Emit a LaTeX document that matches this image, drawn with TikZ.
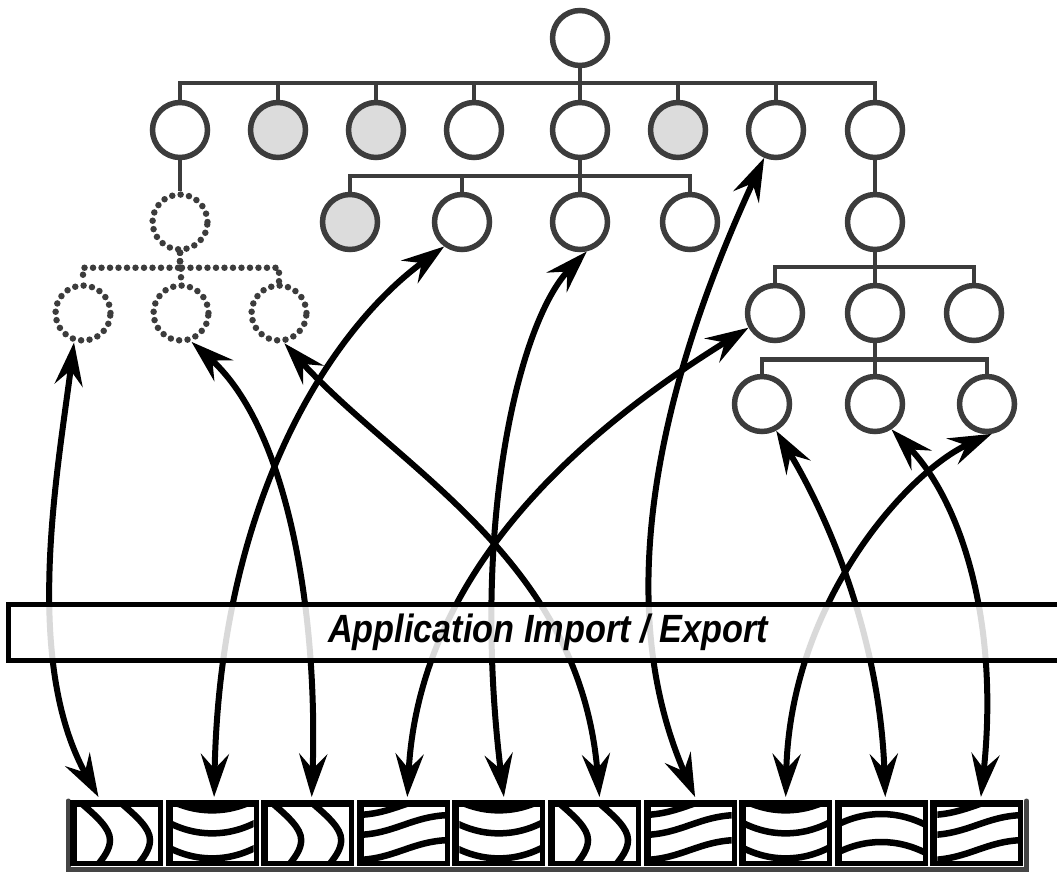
\documentclass[tikz,border=0pt]{standalone}
\usepackage{graphicx}
\usepackage{fontspec}
\newfontfamily\barfont{Liberation Sans}
\usetikzlibrary{arrows.meta}

\definecolor{treegray}{HTML}{3C3C3C}
\definecolor{nodegray}{HTML}{DCDCDC}
\definecolor{framegray}{HTML}{454545}

\tikzset{
  tnode/.style={circle, draw=treegray, fill=white, line width=0.11cm, minimum size=1.1cm, inner sep=0pt},
  plain/.style={},
  shaded/.style={fill=nodegray},
  dotnode/.style={circle, draw=treegray, line width=0.13cm, minimum size=1.1cm, inner sep=0pt,
    dash pattern=on 0pt off 0.17cm, line cap=round},
  treeline/.style={draw=treegray, line width=0.09cm},
  dotline/.style={draw=treegray, line width=0.13cm, dash pattern=on 0pt off 0.17cm, line cap=round},
  tile/.style={rectangle, fill=black, minimum width=1.86cm, minimum height=1.32cm, inner sep=0pt, outer sep=0pt},
  tilestroke/.style={line width=0.13cm},
  link/.style={line width=0.12cm,
    {Stealth[length=0.86cm,width=0.56cm,inset=0.3cm]}-{Stealth[length=0.86cm,width=0.56cm,inset=0.3cm]}},
  appbar/.style={rectangle, draw=black, line width=0.1cm, fill=white, fill opacity=0.85, text opacity=1,
    minimum width=21.6cm, minimum height=1.12cm, font=\barfont\bfseries\itshape\fontsize{19.5}{22}\selectfont}
}

% wood grain patterns, local pixel coordinates of one tile
\newcommand{\tileV}{\foreach \s in {0,40}{\draw[tilestroke] (\s+11,3) .. controls (\s+26,16) and (\s+40,28) .. (\s+40,40) .. controls (\s+40,50) and (\s+33,58) .. (\s+27,66);}}
\newcommand{\tileSag}{\foreach \y in {-2,21,46}{\draw[tilestroke] (0,\y) .. controls (30,\y+16.5) and (63,\y+16.5) .. (93,\y);}}
\newcommand{\tileRise}{\foreach \y in {15,35,60}{\draw[tilestroke] (0,\y) .. controls (38,\y-1) and (55,\y-19) .. (93,\y-20);}}
\newcommand{\tileArch}{\foreach \y in {26,54}{\draw[tilestroke] (0,\y) .. controls (30,\y-16) and (63,\y-16) .. (93,\y);}}

\begin{document}
\begin{tikzpicture}[x=0.02cm, y=-0.02cm]
\path[use as bounding box, clip] (0,0) rectangle (1057,872);

% file tiles
\draw[framegray, line width=0.1cm, line cap=round] (68,801) -- (68,869.5) -- (1026.5,869.5) -- (1026.5,801);
\foreach \i/\kind in {1/V,2/Sag,3/V,4/Rise,5/Sag,6/V,7/Rise,8/Sag,9/Arch,10/Rise}{
  \node[tile, anchor=north west] (box\i) at ({70+95.6*(\i-1)},800) {};
  \begin{scope}[shift={(box\i.north west)}]
    \fill[white] (7,7) rectangle (88,61);
    \clip (7,7) rectangle (88,61);
    \csname tile\kind\endcsname
  \end{scope}
}

% tree
\node[tnode] (root) at (580,38) {};
\foreach \n/\x/\st in {1/180/plain,2/278/shaded,3/376/shaded,4/474/plain,5/580/plain,6/678/shaded,7/776/plain,8/875/plain}
  \node[tnode,\st] (a\n) at (\x,130) {};
\foreach \n/\x/\st in {1/350/shaded,2/462/plain,3/580/plain,4/690/plain}
  \node[tnode,\st] (b\n) at (\x,222) {};
\node[dotnode] (d0) at (180,222) {};
\foreach \n/\x in {1/83,2/181,3/279}
  \node[dotnode] (d\n) at (\x,313) {};
\node[tnode] (e0) at (875,222) {};
\foreach \n/\x in {1/775,2/875,3/974}
  \node[tnode] (e\n) at (\x,313) {};
\foreach \n/\x in {1/762,2/875,3/987}
  \node[tnode] (f\n) at (\x,404) {};

\foreach \n in {1,...,8} \draw[treeline] (root.south) -- ++(0,15) -| (a\n.north);
\foreach \n in {1,...,4} \draw[treeline] (a5.south) -- ++(0,16) -| (b\n.north);
\draw[treeline] (a1.south) -- (d0.north);
\foreach \n in {1,2,3} \draw[dotline] (d0.south) -- ++(0,15) -| (d\n.north);
\draw[treeline] (a8.south) -- (e0.north);
\foreach \n in {1,2,3} \draw[treeline] (e0.south) -- ++(0,15) -| (e\n.north);
\foreach \n in {1,2,3} \draw[treeline] (e2.south) -- ++(0,16) -| (f\n.north);

% mappings
\draw[link] (d1.-107) .. controls (58,470) and (22,660) .. ([shift={(-18,-3)}]box1.north);
\draw[link] (d2.-70) .. controls (290,430) and (318,620) .. ([shift={(4,-3)}]box3.north);
\draw[link] (d3.-80) .. controls (400,470) and (580,560) .. ([shift={(5,-3)}]box6.north);
\draw[link] (b2.-126) .. controls (330,330) and (220,500) .. ([shift={(2,-3)}]box2.north);
\draw[link] (b3.-77) .. controls (520,320) and (470,520) .. ([shift={(5,-3)}]box5.north);
\draw[link] (a7.-113) .. controls (680,340) and (600,580) .. ([shift={(5,-3)}]box7.north);
\draw[link] (e1.-151) .. controls (600,420) and (420,560) .. ([shift={(4,-3)}]box4.north);
\draw[link] (f1.-62) .. controls (830,520) and (880,640) .. ([shift={(4,-3)}]box9.north);
\draw[link] (f2.-57) .. controls (960,500) and (1000,620) .. ([shift={(4,-3)}]box10.north);
\draw[link] (f3.-81) .. controls (910,470) and (790,600) .. ([shift={(0,-3)}]box8.north);

% import / export layer
\node[appbar] (bar) at (548,632) {\scalebox{1}[1.15]{Application Import / Export}};
\end{tikzpicture}
\end{document}
